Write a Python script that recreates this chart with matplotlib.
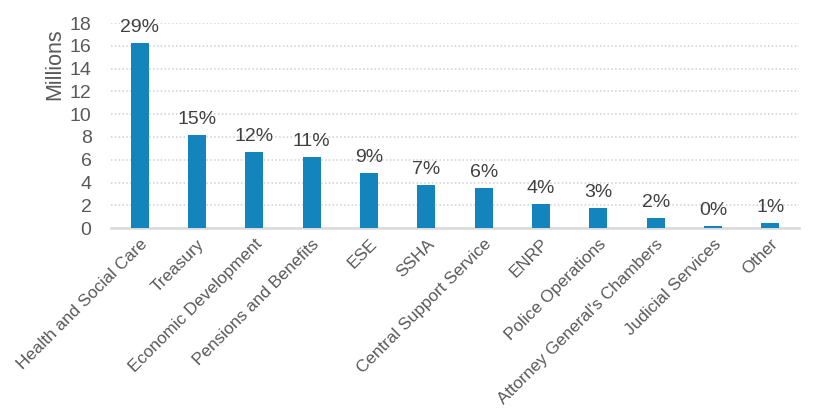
import matplotlib.pyplot as plt

plt.rcParams['font.family'] = ['Liberation Sans', 'DejaVu Sans']

categories = ['Health and Social Care', 'Treasury', 'Economic Development',
              'Pensions and Benefits', 'ESE', 'SSHA', 'Central Support Service',
              'ENRP', 'Police Operations', "Attorney General's Chambers",
              'Judicial Services', 'Other']
values = [16.24, 8.17, 6.67, 6.23, 4.83, 3.78, 3.51, 2.10, 1.76, 0.88, 0.18, 0.44]
shares = ['29%', '15%', '12%', '11%', '9%', '7%', '6%', '4%', '3%', '2%', '0%', '1%']

text_col = '#595959'
bar_col = '#1384BC'

fig = plt.figure(figsize=(8.22, 4.2), dpi=100)
ax = fig.add_axes([0.135, 0.457, 0.837, 0.488])

x = range(len(categories))
bars = ax.bar(x, values, width=0.31, color=bar_col, zorder=3)

for b, s in zip(bars, shares):
    ax.annotate(s, (b.get_x() + b.get_width() / 2, b.get_height()),
                xytext=(0, 5), textcoords='offset points',
                ha='center', va='bottom', fontsize=14, color='#404040')

ax.set_xlim(-0.5, len(categories) - 0.5)
ax.set_ylim(0, 18)
ax.set_yticks(range(0, 19, 2))
ax.yaxis.grid(True, color='#D0D0D0', linestyle=(0, (1, 1.5)), linewidth=1.1, zorder=0)
ax.set_axisbelow(True)

ax.set_xticks(list(x))
ax.set_xticklabels(categories, rotation=45, ha='right', rotation_mode='anchor',
                   fontsize=12.3, color=text_col)
ax.tick_params(axis='x', length=0, pad=6)
ax.tick_params(axis='y', length=0, labelsize=14, labelcolor=text_col, pad=14)

for side in ['top', 'right', 'left']:
    ax.spines[side].set_visible(False)
ax.spines['bottom'].set_color('#D9D9D9')
ax.spines['bottom'].set_linewidth(1.8)

# label sits near the top of the axis, as in the source chart
ax.set_ylabel('Millions', fontsize=15.5, color=text_col)
ax.yaxis.set_label_coords(-0.067, 0.80)

plt.savefig('out.png', dpi=100)
